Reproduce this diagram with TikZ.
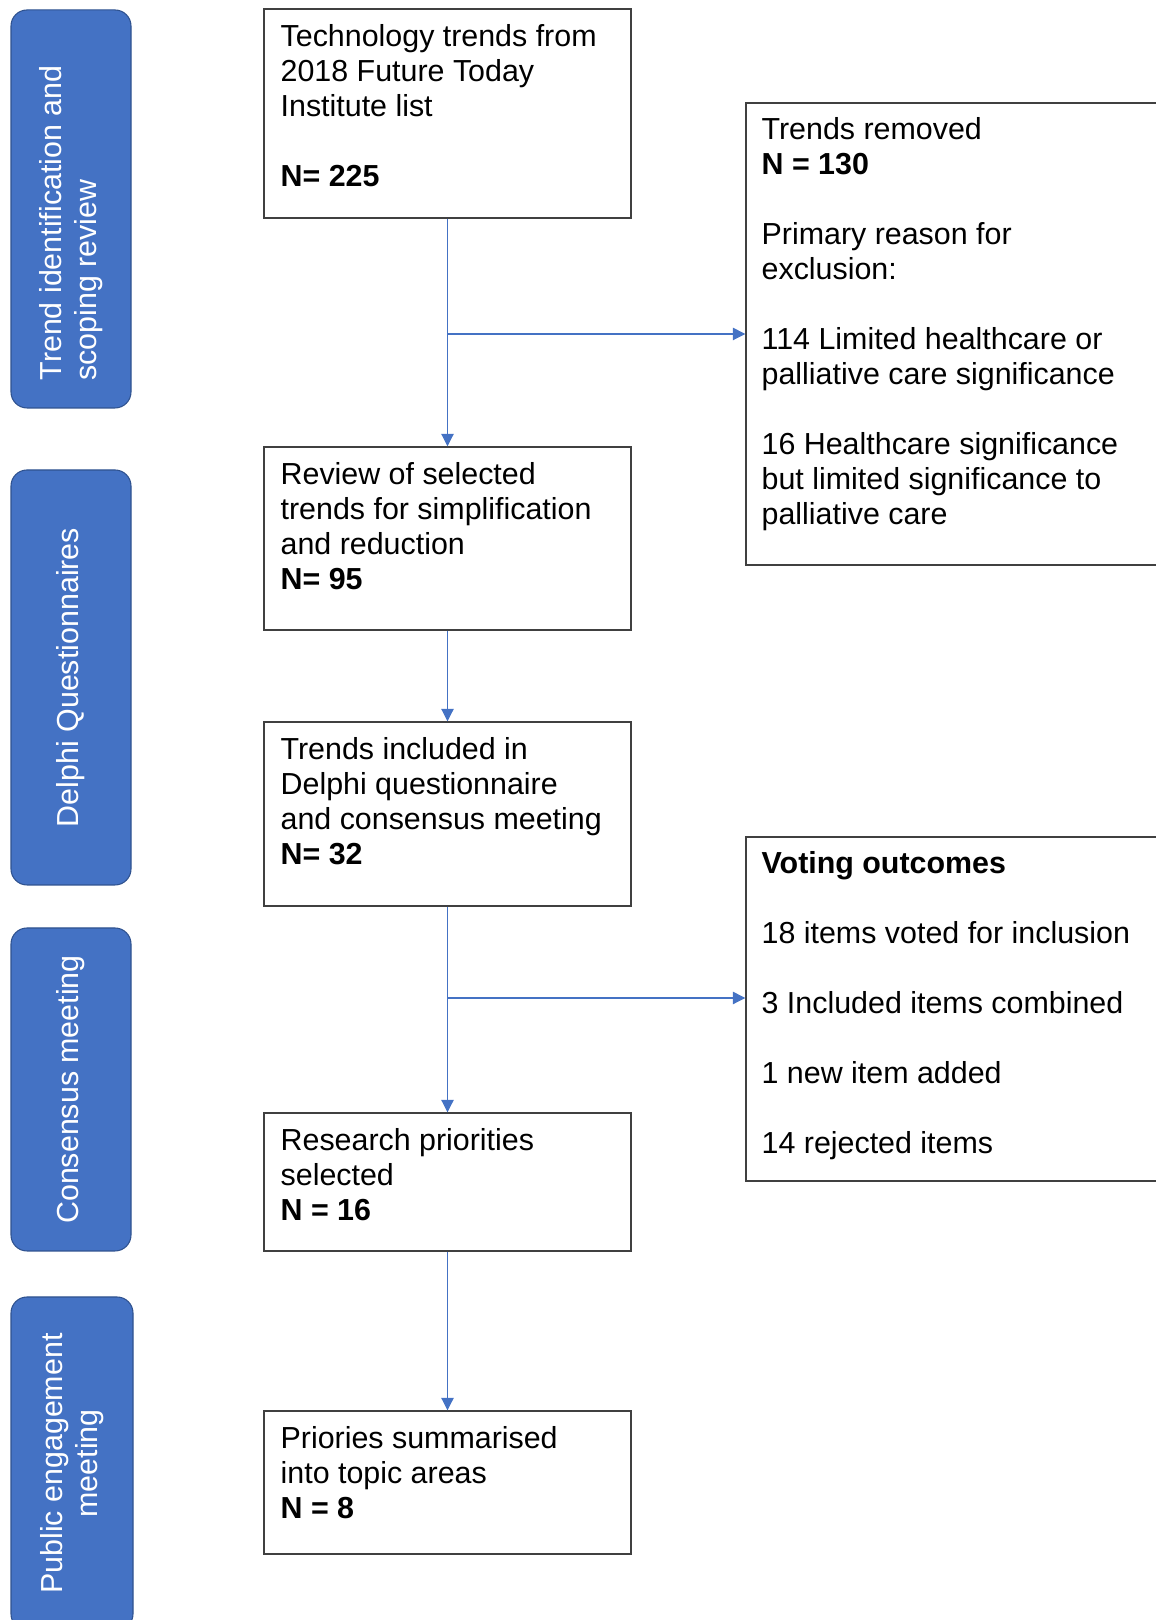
\documentclass[tikz,border=0pt]{standalone}
\usepackage{fontspec}
\setmainfont{Liberation Sans}
\usetikzlibrary{arrows.meta, positioning}
\definecolor{phaseblue}{HTML}{4472C4}
\definecolor{phaseedge}{HTML}{2F528F}
\definecolor{boxedge}{HTML}{404040}

\begin{document}
\begin{tikzpicture}[x=1cm,y=1cm,
    every node/.style={font=\fontsize{17.3}{19.9}\selectfont},
    phase/.style={draw=phaseedge, line width=0.6pt, fill=phaseblue, rounded corners=0.32cm, rotate=90, text=white, align=center, minimum height=2.4cm},
    stage/.style={draw=boxedge, line width=0.8pt, minimum width=7.34cm},
    outcome/.style={draw=boxedge, line width=0.8pt, minimum width=8.38cm},
    txt/.style={anchor=north west, inner sep=0pt, align=left},
    flow/.style={draw=phaseblue, line width=0.6pt, -{Triangle[length=0.25cm, width=0.25cm]}}]
    \useasboundingbox (0,0) rectangle (23.1,32.4);
    % phases on the left
    \node[phase, minimum width=7.96cm, align=left] (trendPhase) at (1.42,28.22) {Trend identification and\rule{0.56cm}{0pt}\\scoping review};
    \node[phase, minimum width=8.3cm] (delphiPhase) at (1.42,18.85) {Delphi Questionnaires};
    \node[phase, minimum width=6.46cm] (consensusPhase) at (1.42,10.61) {Consensus meeting};
    \node[phase, minimum width=6.66cm, minimum height=2.44cm] (publicPhase) at (1.44,3.13) {Public engagement\\meeting};
    % main stages
    \node[stage, minimum height=4.18cm] (sourceList) at (8.95,30.13) {};
    \node[txt] (sourceListText) at ([shift={(0.34,-0.31)}]sourceList.north west) {Technology trends from\\2018 Future Today\\Institute list\\[0.7cm]\textbf{N= 225}};
    \node[stage, minimum height=3.66cm] (reviewTrends) at (8.95,21.63) {};
    \node[txt] (reviewTrendsText) at ([shift={(0.34,-0.31)}]reviewTrends.north west) {Review of selected\\trends for simplification\\and reduction\\\textbf{N= 95}};
    \node[stage, minimum height=3.68cm] (delphiTrends) at (8.95,16.12) {};
    \node[txt] (delphiTrendsText) at ([shift={(0.34,-0.31)}]delphiTrends.north west) {Trends included in\\Delphi questionnaire\\and consensus meeting\\\textbf{N= 32}};
    \node[stage, minimum height=2.76cm] (priorities) at (8.95,8.76) {};
    \node[txt] (prioritiesText) at ([shift={(0.34,-0.31)}]priorities.north west) {Research priorities\\selected\\\textbf{N = 16}};
    \node[stage, minimum height=2.86cm] (topicAreas) at (8.95,2.75) {};
    \node[txt] (topicAreasText) at ([shift={(0.34,-0.31)}]topicAreas.north west) {Priories summarised\\into topic areas\\\textbf{N = 8}};
    % side boxes
    \node[outcome, minimum height=9.24cm] (trendsRemoved) at (19.11,25.72) {};
    \node[txt] (trendsRemovedText) at ([shift={(0.32,-0.3)}]trendsRemoved.north west) {Trends removed\\\textbf{N = 130}\\[0.7cm]Primary reason for\\exclusion:\\[0.7cm]114 Limited healthcare or\\palliative care significance\\[0.7cm]16 Healthcare significance\\but limited significance to\\palliative care};
    \node[outcome, minimum height=6.88cm] (votingOutcomes) at (19.11,12.22) {};
    \node[txt] (votingOutcomesText) at ([shift={(0.32,-0.3)}]votingOutcomes.north west) {\textbf{Voting outcomes}\\[0.7cm]18 items voted for inclusion\\[0.7cm]3 Included items combined\\[0.7cm]1 new item added\\[0.7cm]14 rejected items};
    % connectors
    \draw[flow] (sourceList) -- (reviewTrends);
    \coordinate (removedSplit) at (sourceList.south |- trendsRemoved.west);
    \draw[flow] (removedSplit) -- (trendsRemoved.west);
    \draw[flow] (reviewTrends) -- (delphiTrends);
    \draw[flow] (delphiTrends) -- (priorities);
    \coordinate (voteSplit) at (8.95,12.44);
    \draw[flow] (voteSplit) -- (voteSplit -| votingOutcomes.west);
    \draw[flow] (priorities) -- (topicAreas);
\end{tikzpicture}
\end{document}
